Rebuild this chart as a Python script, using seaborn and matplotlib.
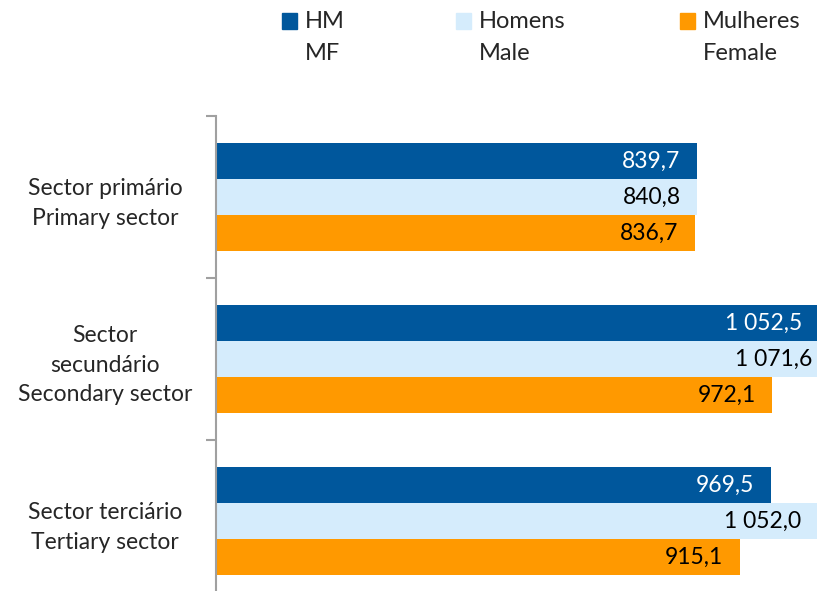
import matplotlib
matplotlib.use("Agg")
import matplotlib.pyplot as plt
import seaborn as sns
import pandas as pd
from matplotlib.patches import Rectangle

categories = ["Sector primário\nPrimary sector",
              "Sector\nsecundário\nSecondary sector",
              "Sector terciário\nTertiary sector"]
series = ["HM", "Homens", "Mulheres"]
legend_labels = ["HM\nMF", "Homens\nMale", "Mulheres\nFemale"]
hm = [839.7, 1052.5, 969.5]
homens = [840.8, 1071.6, 1052.0]
mulheres = [836.7, 972.1, 915.1]
colors = ["#00579C", "#D5ECFC", "#FF9900"]
text_colors = ["white", "black", "black"]

rows = []
for s, vals in zip(series, [hm, homens, mulheres]):
    for c, v in zip(categories, vals):
        rows.append({"cat": c, "series": s, "value": v})
df = pd.DataFrame(rows)

sns.set_theme(style="white")
plt.rcParams["font.family"] = ["Lato", "DejaVu Sans"]

fig = plt.figure(figsize=(8.17, 5.91), dpi=100)
ax = fig.add_axes([216/817, 1 - 602/591, 1 - 216/817, 486/591])

sns.barplot(data=df, y="cat", x="value", hue="series", order=categories,
            hue_order=series, palette=colors, orient="h", width=108/162,
            saturation=1, ax=ax, legend=False, edgecolor="none", linewidth=0)

xmax = 1050
ax.set_xlim(0, xmax)
ax.set_ylim(2.5, -0.5)
ax.set_xlabel("")
ax.set_ylabel("")
ax.set_xticks([])

for spine in ["top", "right", "bottom"]:
    ax.spines[spine].set_visible(False)
ax.spines["left"].set_color("#A0A0A0")
ax.spines["left"].set_linewidth(1.5)

ax.set_yticks([-0.5, 0.5, 1.5, 2.5])
ax.set_yticklabels([])
ax.tick_params(axis="y", which="major", length=7, width=1.5, color="#A0A0A0", direction="out", left=True)
ax.set_yticks([0, 1, 2], minor=True)
ax.set_yticklabels(categories, minor=True, fontsize=16.5, multialignment="center",
                   ha="center", linespacing=1.5)
ax.tick_params(axis="y", which="minor", length=0, pad=80)

for cont, tc in zip(ax.containers, text_colors):
    for patch in cont.patches:
        w = patch.get_width()
        yc = patch.get_y() + patch.get_height() / 2
        label = f"{w:,.1f}".replace(",", " ").replace(".", ",")
        ax.annotate(label, xy=(w, yc), xytext=(-12, 0),
                    textcoords="offset points", ha="right", va="center",
                    fontsize=16.5, color=tc, annotation_clip=False)

# legend
leg_x = [282, 456, 680]
for x, col, lab in zip(leg_x, colors, legend_labels):
    fig.patches.append(Rectangle((x/817, 1 - 29/591), 15/817, 16/591,
                                 transform=fig.transFigure, color=col))
    l1, l2 = lab.split("\n")
    fig.text((x + 23)/817, 1 - 21/591, l1, fontsize=17, va="center", ha="left")
    fig.text((x + 23)/817, 1 - 54/591, l2, fontsize=17, va="center", ha="left")

fig.savefig("out.png", dpi=100)
